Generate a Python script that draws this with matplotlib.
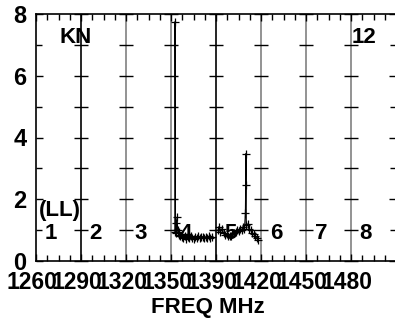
import numpy as np
import matplotlib
matplotlib.use("Agg")
from matplotlib import pyplot as plt
from matplotlib import transforms

plt.rcParams['font.family'] = ['Liberation Sans', 'DejaVu Sans']
plt.rcParams['font.weight'] = 'bold'

# band start frequencies (MHz), each band is 30 MHz wide on the plot
band_start = [1260, 1290, 1320, 1350, 1390, 1420, 1450, 1480]
band_width = 30.0
band_names = ['1', '2', '3', '4', '5', '6', '7', '8']

# band 4 spectrum
freq_b4 = [1352.6, 1352.7, 1353.0, 1353.3, 1353.6, 1354.0, 1354.5, 1355.0, 1355.6,
           1356.3, 1357.0, 1358.0, 1359.0, 1360.0, 1361.0, 1362.0, 1363.0, 1364.0,
           1365.0, 1366.0, 1367.0, 1368.0, 1369.0, 1370.0, 1371.0, 1372.0, 1373.0,
           1374.0, 1375.0, 1376.0, 1377.0]
flux_b4 = [0.95, 7.75, 1.0, 1.22, 0.9, 1.42, 1.0, 0.85, 0.95, 0.8, 0.78, 0.75, 0.8,
           0.72, 0.78, 0.74, 0.8, 0.76, 0.72, 0.78, 0.75, 0.8, 0.73, 0.77, 0.79, 0.74,
           0.78, 0.75, 0.8, 0.76, 0.78]

# band 5 spectrum
freq_b5 = [1391.3, 1392.0, 1393.0, 1394.0, 1395.0, 1396.0, 1397.0, 1398.0, 1399.0,
           1400.0, 1401.0, 1402.0, 1403.0, 1404.0, 1405.0, 1406.0, 1407.0, 1408.0,
           1409.0, 1409.6, 1409.8, 1410.0, 1410.2, 1411.0, 1412.0, 1413.0, 1414.0,
           1415.0, 1416.0, 1417.0, 1418.0]
flux_b5 = [1.0, 1.1, 0.95, 1.05, 0.9, 0.85, 0.88, 0.8, 0.82, 0.8, 0.86, 0.9, 0.95,
           1.0, 0.98, 1.05, 1.0, 1.1, 1.05, 1.55, 2.45, 3.48, 1.15, 1.2, 1.05, 1.0,
           0.92, 0.88, 0.8, 0.75, 0.68]


def to_axis(freqs, band):
    return [band + (f - band_start[band]) / band_width for f in freqs]


fig = plt.figure(figsize=(3.95, 3.21), dpi=100)
ax = fig.add_axes([36 / 395, 60 / 321, 360 / 395, 247 / 321])
ax.set_xlim(0, 8)
ax.set_ylim(0, 8)

# band boundaries with tick crosses
for i in range(1, 8):
    c = 'black' if i in (1, 4) else '#808080'
    ax.axvline(i, color=c, lw=1.2, zorder=1)
    ax.plot([i] * 9, range(9), ls='none', marker='_', ms=10, mew=1.0,
            color='black', zorder=2, clip_on=False)

ax.plot(to_axis(freq_b4, 3), flux_b4, color='black', lw=0.8, marker='+', ms=6,
        mew=0.9, zorder=3)
ax.plot(to_axis(freq_b5, 4), flux_b5, color='black', lw=0.8, marker='+', ms=6,
        mew=0.9, zorder=3)

for i, name in enumerate(band_names):
    ax.text(i + 0.33, 0.9, name, fontsize=16, fontweight='bold', ha='center', va='center')
ax.text(0.53, 1.62, '(LL)', fontsize=16, fontweight='bold', ha='center', va='center')
ax.text(0.89, 7.23, 'KN', fontsize=16, fontweight='bold', ha='center', va='center')
ax.text(7.28, 7.23, '12', fontsize=16, fontweight='bold', ha='center', va='center')

ax.set_xticks(range(8))
ax.set_xticklabels([str(f) for f in band_start], fontsize=16.5, fontweight='bold')
ax.set_xticks(np.arange(0, 8, 0.25), minor=True)
ax.set_yticks([0, 2, 4, 6, 8])
ax.set_yticklabels(['0', '2', '4', '6', '8'], fontsize=17, fontweight='bold')
ax.set_yticks(range(9), minor=True)
ax.tick_params(which='both', direction='in', top=True, right=True, width=1.0)
ax.tick_params(which='major', length=5)
ax.tick_params(which='minor', length=4)
ax.tick_params(axis='x', which='major', pad=7)
ax.tick_params(axis='y', which='major', pad=7)

shift = transforms.ScaledTranslation(-4 / 100, 0, fig.dpi_scale_trans)
for lab in ax.get_xticklabels():
    lab.set_transform(lab.get_transform() + shift)

for s in ax.spines.values():
    s.set_linewidth(1.2)

fig.text(208 / 395, 1 - 308 / 321, 'FREQ MHz', fontsize=16, fontweight='bold',
         ha='center', va='center')

fig.savefig('out.png', dpi=100)
